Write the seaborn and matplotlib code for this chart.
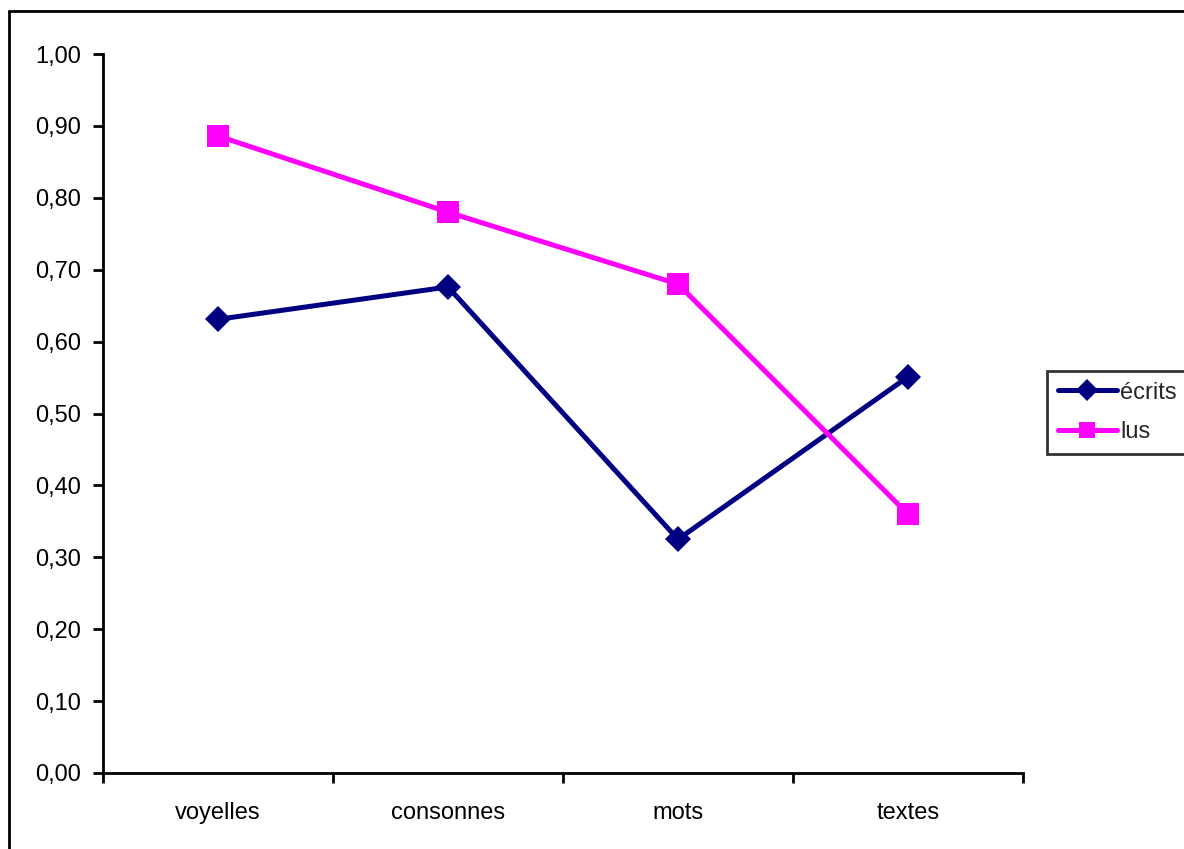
import pandas as pd
import numpy as np
import seaborn as sns
import matplotlib.pyplot as plt
from matplotlib.lines import Line2D
from matplotlib.ticker import FixedLocator, FuncFormatter

sns.set_style("ticks")
plt.rcParams['font.family'] = ['Liberation Sans', 'DejaVu Sans']

categories = ['voyelles', 'consonnes', 'mots', 'textes']
ecrits = [0.631, 0.676, 0.325, 0.551]
lus = [0.886, 0.780, 0.680, 0.360]

df = pd.DataFrame({
    'cat': categories * 2,
    'val': ecrits + lus,
    'serie': ['écrits'] * 4 + ['lus'] * 4,
})

fig = plt.figure(figsize=(11.84, 8.49), dpi=100)
ax = fig.add_axes([103/1184, 76/849, 920/1184, 719/849])

sns.lineplot(data=df, x='cat', y='val', hue='serie', style='serie',
             palette={'écrits': '#000080', 'lus': '#FF00FF'},
             markers={'écrits': 'D', 'lus': 's'}, dashes=False,
             linewidth=3.6, markeredgewidth=0, sort=False, ax=ax)
for ln in ax.lines:
    if ln.get_marker() == 's':
        ln.set_markersize(16.5)
    else:
        ln.set_markersize(13)

ax.set_xlim(-0.5, 3.5)
ax.set_ylim(0, 1.0)
ax.set_xlabel('')
ax.set_ylabel('')

ax.yaxis.set_major_locator(FixedLocator(np.arange(0, 1.01, 0.1)))
ax.yaxis.set_major_formatter(FuncFormatter(lambda v, p: ('%.2f' % v).replace('.', ',')))
ax.xaxis.set_minor_locator(FixedLocator([-0.5, 0.5, 1.5, 2.5, 3.5]))
ax.tick_params(axis='x', which='major', length=0, pad=21, labelsize=17, colors='black')
ax.tick_params(axis='x', which='minor', length=7, width=2, direction='out', colors='black')
ax.tick_params(axis='y', which='major', length=7, width=2, direction='out', pad=9,
               labelsize=17, colors='black')

sns.despine(ax=ax)
for s in ['left', 'bottom']:
    ax.spines[s].set_color('black')
    ax.spines[s].set_linewidth(2)

handles = [Line2D([], [], color='#000080', lw=3.6, marker='D', markersize=11, markeredgewidth=0),
           Line2D([], [], color='#FF00FF', lw=3.6, marker='s', markersize=12, markeredgewidth=0)]
leg = ax.legend(handles, ['écrits', 'lus'], loc='upper left',
                bbox_to_anchor=(1047/1184, 1 - 371/849), bbox_transform=fig.transFigure,
                fontsize=17, frameon=True, fancybox=False, handlelength=2.5,
                handletextpad=0.15, borderpad=0.45, labelspacing=0.75, borderaxespad=0)
leg.get_frame().set_edgecolor('black')
leg.get_frame().set_linewidth(2)

# outer chart border (left and top visible)
fig.add_artist(Line2D([9/1184, 9/1184], [0, 1 - 11/849], color='black', lw=2,
                      transform=fig.transFigure))
fig.add_artist(Line2D([9/1184, 1], [1 - 11/849, 1 - 11/849], color='black', lw=2,
                      transform=fig.transFigure))

plt.savefig('out.png', dpi=100)
